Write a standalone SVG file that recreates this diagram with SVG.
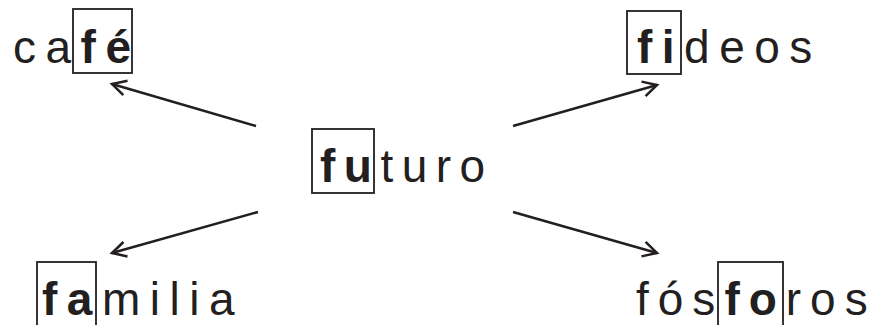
<svg xmlns="http://www.w3.org/2000/svg" width="875" height="325" viewBox="0 0 875 325">
<defs>
<style>
.w{font-family:"Liberation Sans",Arial,sans-serif;font-size:46px;fill:#231f20;letter-spacing:9.5px}
.b{font-weight:bold}
.box{fill:none;stroke:#231f20;stroke-width:1.8}
.c{fill:none;stroke:#231f20;stroke-width:2.5}
</style>
<marker id="ah" markerUnits="userSpaceOnUse" markerWidth="30" markerHeight="30" refX="0" refY="0" viewBox="-20 -15 30 30" orient="auto" overflow="visible">
<path d="M-14,-7.5 L0,0 L-14,7.5" fill="none" stroke="#231f20" stroke-width="2.5" stroke-linejoin="miter"/>
</marker>
</defs>
<rect width="875" height="325" fill="#fff"/>
<g id="node-cafe">
<rect class="box" x="73" y="9" width="59" height="64"/>
<text class="w" x="13" y="63">ca<tspan class="b">fé</tspan></text>
</g>
<g id="node-fideos">
<rect class="box" x="627" y="11" width="54" height="63"/>
<text class="w" x="637" y="63"><tspan class="b">fi</tspan>deos</text>
</g>
<g id="node-futuro">
<rect class="box" x="312" y="129" width="62" height="64"/>
<text class="w" x="320" y="182" style="letter-spacing:8.5px"><tspan class="b">fu</tspan>turo</text>
</g>
<g id="node-familia">
<rect class="box" x="37" y="262" width="59" height="70"/>
<text class="w" x="42" y="315"><tspan class="b">fa</tspan>milia</text>
</g>
<g id="node-fosforos">
<rect class="box" x="718" y="262" width="65" height="70"/>
<text class="w" x="636" y="315" style="letter-spacing:9px">fós<tspan class="b">fo</tspan>ros</text>
</g>
<g id="connectors">
<line class="c" x1="256" y1="126" x2="112" y2="84" marker-end="url(#ah)"/>
<line class="c" x1="513" y1="126" x2="657" y2="85" marker-end="url(#ah)"/>
<line class="c" x1="258" y1="212" x2="112" y2="253" marker-end="url(#ah)"/>
<line class="c" x1="513" y1="212" x2="657" y2="253" marker-end="url(#ah)"/>
</g>
</svg>
